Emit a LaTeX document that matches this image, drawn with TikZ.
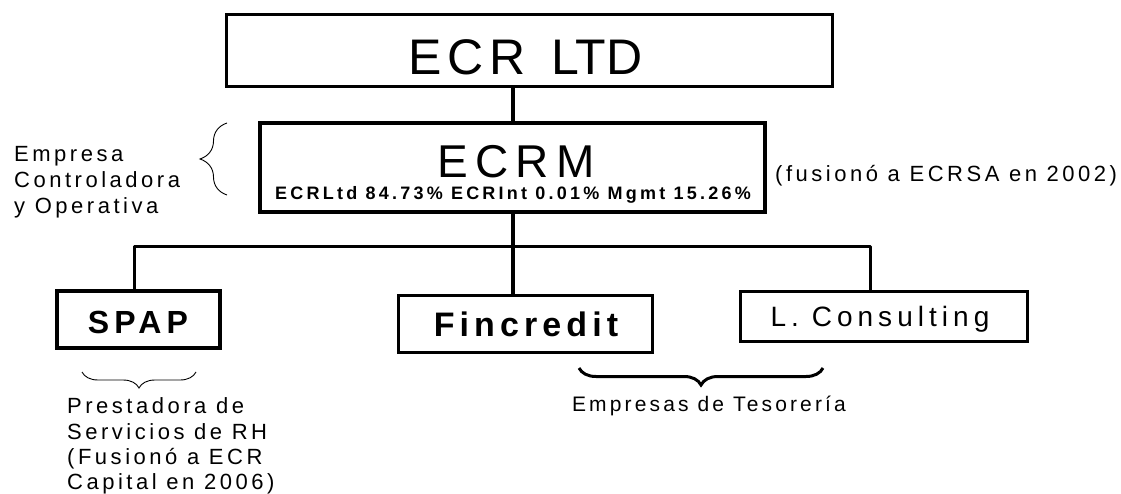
\documentclass[tikz,border=0pt]{standalone}
\usepackage{fontspec}
\setmainfont{Liberation Sans}
\newfontfamily\lsfont[LetterSpace=16]{Liberation Sans}
\usetikzlibrary{decorations.pathreplacing}
\begin{document}
\begin{tikzpicture}[x=1pt,y=-1pt,
  box/.style={draw, line width=3pt, rectangle, inner sep=0pt},
  txt/.style={inner sep=0pt, font=\lsfont\fontsize{22}{26}\selectfont},
  line/.style={line width=3pt},
  thinbrace/.style={decorate, decoration={brace, amplitude=#1}, line width=0.9pt},
  thickbrace/.style={decorate, decoration={brace, amplitude=#1}, line width=3pt}]
\useasboundingbox (0,0) rectangle (1121,494);
% boxes
\node[box, minimum width=606pt, minimum height=72pt] (ltd) at (529,51) {};
\node[box, line width=4pt, minimum width=505pt, minimum height=89pt] (ecrm) at (512.5,167.5) {};
\node[box, line width=4pt, minimum width=163pt, minimum height=57pt] (spap) at (138.5,319.5) {};
\node[box, minimum width=254pt, minimum height=57pt] (fin) at (525,323.5) {};
\node[box, minimum width=287pt, minimum height=50pt] (lcon) at (883.5,316) {};
% box texts
\node[inner sep=0pt, anchor=base, font=\fontsize{50}{50}\selectfont] (ltdt) at (525.5,75) {E\kern6pt C\kern6pt R\kern26pt LTD};
\node[inner sep=0pt, anchor=base, font=\lsfont\fontsize{46}{46}\selectfont] (ecrmt) at (516,178) {ECRM};
\node[inner sep=0pt, anchor=base, font=\lsfont\addfontfeature{LetterSpace=18}\bfseries\fontsize{18}{18}\selectfont] (ecrms) at (513,200) {ECRLtd 84.73\% ECRInt 0.01\% Mgmt 15.26\%};
\node[inner sep=0pt, anchor=base, font=\lsfont\bfseries\fontsize{32}{32}\selectfont] (spapt) at (138,333) {SPAP};
\node[inner sep=0pt, anchor=base, font=\lsfont\addfontfeature{LetterSpace=15}\bfseries\fontsize{34}{34}\selectfont] (fint) at (526,336) {Fincredit};
\node[inner sep=0pt, anchor=base, font=\lsfont\addfontfeature{LetterSpace=18}\fontsize{28}{28}\selectfont] (lcont) at (880,326) {L. Consulting};
% side texts
\node[txt, anchor=base west] (c1) at (14,162) {Empresa};
\node[txt, anchor=base west] (c2) at (14,188) {Controladora};
\node[txt, anchor=base west] (c3) at (14,214) {y Operativa};
\node[txt, anchor=base west, font=\lsfont\fontsize{22}{26}\selectfont] (fus) at (775,182) {(fusionó a ECRSA en 2002)};
\node[txt, anchor=base west] (s1) at (67,413) {Prestadora de};
\node[txt, anchor=base west] (s2) at (67,439) {Servicios de RH};
\node[txt, anchor=base west] (s3) at (67,464) {(Fusionó a ECR};
\node[txt, anchor=base west] (s4) at (67,489) {Capital en 2006)};
\node[txt, anchor=base, font=\lsfont\addfontfeature{LetterSpace=15}\fontsize{21}{26}\selectfont] (tes) at (709,411) {Empresas de Tesorería};
% connectors
\coordinate (busL) at (134,247);
\coordinate (busR) at (870,247);
\draw[line width=4pt] (ecrm.north) -- (ecrm.north |- ltd.south);
\draw[line width=4pt] (ecrm.south) -- (ecrm.south |- fin.north);
\draw[line, line join=round] (busL |- spap.north) -- (busL) -- (busR) -- (busR |- lcon.north);
% braces
\coordinate (b1a) at (227,195);
\coordinate (b1b) at (227,123);
\draw[thinbrace=27pt] (b1a) -- (b1b);
\coordinate (b2a) at (196,372);
\coordinate (b2b) at (82,372);
\draw[thinbrace=16pt] (b2a) -- (b2b);
\coordinate (b3a) at (823,368);
\coordinate (b3b) at (579,368);
\draw[thickbrace=17pt] (b3a) -- (b3b);
\end{tikzpicture}
\end{document}
